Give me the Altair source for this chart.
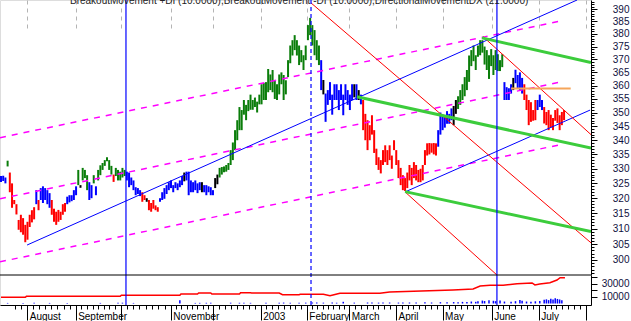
import altair as alt
import pandas as pd

# ---- x axis: bar index positions of month boundaries and their labels ----
month_pos = [11.9, 33.8, 54.2, 76.9, 96.2, 117.6, 138.5, 157.7, 178.9, 200.0, 222.2, 243.5, 265.0]
month_lab = ["August", "September", "", "November", "", "2003", "February", "March",
             "April", "May", "June", "July", ""]

# ---- daily bars: high / low / colour code (g green, r red, b blue, k black) ----
hi = [327.5, 327.6, 327.0, 332.8, 328.7, 325.0, 319.4, 318.0, 312.8, 314.5,
      313.4, 311.2, 312.2, 314.5, 316.0, 317.0, 322.7, 319.4, 323.4, 324.0,
      323.4, 322.7, 321.7, 319.4, 316.5, 315.5, 316.1, 315.5, 318.0, 318.4,
      320.5, 321.0, 321.0, 322.7, 324.0, 329.6, 324.4, 330.3, 329.6, 327.8,
      325.4, 324.4, 327.8, 324.0, 329.6, 331.2, 332.0, 333.0, 334.0, 333.0,
      331.0, 328.0, 330.3, 329.6, 329.0, 330.3, 329.6, 329.0, 328.7, 327.0,
      326.0, 323.7, 323.4, 322.7, 322.0, 321.0, 320.0, 319.4, 318.4, 319.4,
      317.6, 317.0, 320.0, 322.0, 323.4, 324.4, 325.4, 326.0, 324.4, 325.4,
      325.0, 326.0, 327.5, 328.7, 329.0, 329.0, 326.0, 325.4, 326.0, 325.0,
      325.4, 325.4, 324.4, 324.4, 324.0, 323.7, 322.7, 326.8, 328.0, 330.3,
      330.6, 330.8, 331.3, 332.0, 336.5, 339.2, 343.6, 347.2, 352.0, 350.9,
      354.6, 352.8, 354.6, 356.6, 354.6, 355.5, 354.0, 356.6, 360.5, 361.0,
      361.3, 366.3, 364.2, 365.9, 362.0, 360.5, 364.2, 365.0, 364.0, 362.0,
      369.7, 375.4, 377.5, 379.5, 377.5, 375.4, 373.6, 371.6, 375.4, 383.5,
      386.4, 383.5, 381.5, 377.5, 375.4, 369.7, 362.1, 357.0, 358.3, 361.3,
      356.6, 360.5, 360.5, 358.3, 360.5, 356.6, 360.5, 358.3, 356.6, 360.5,
      360.5, 360.5, 358.3, 356.6, 354.6, 349.5, 347.2, 345.4, 349.0, 343.6,
      337.0, 334.0, 333.0, 336.5, 338.2, 336.5, 338.2, 334.6, 340.0, 336.5,
      333.0, 330.3, 327.8, 326.8, 328.7, 331.3, 330.3, 332.3, 331.3, 329.6,
      330.0, 331.3, 336.5, 338.9, 339.0, 338.9, 339.0, 338.9, 343.6, 350.0,
      349.2, 348.4, 350.5, 349.5, 351.5, 352.4, 354.6, 356.0, 358.3, 360.5,
      363.2, 365.9, 371.5, 373.6, 375.4, 371.6, 375.4, 377.5, 377.5, 375.0,
      373.6, 371.6, 374.0, 371.6, 373.6, 372.0, 369.7, 372.0, 361.3, 359.4,
      359.0, 360.5, 362.9, 366.0, 364.0, 365.0, 362.9, 360.5, 356.6, 354.6,
      353.8, 350.9, 354.6, 354.6, 356.6, 354.6, 352.0, 350.2, 350.9, 349.2,
      348.0, 350.9, 351.5, 349.0, 350.2, 350.9]
lo = [325.5, 325.8, 325.0, 330.8, 322.0, 316.8, 318.0, 314.6, 309.6, 308.8,
      308.0, 305.6, 306.4, 310.5, 312.0, 313.0, 318.0, 316.0, 319.4, 318.4,
      319.4, 318.0, 316.8, 314.5, 312.2, 311.2, 312.2, 312.8, 314.5, 315.5,
      318.0, 318.6, 319.0, 319.4, 321.0, 324.4, 323.5, 326.0, 326.8, 322.7,
      319.4, 320.0, 325.0, 321.0, 326.0, 327.8, 329.6, 331.0, 332.6, 329.6,
      328.0, 325.5, 327.5, 326.0, 326.0, 327.0, 327.5, 326.0, 323.7, 324.4,
      322.7, 321.0, 321.4, 320.7, 318.8, 319.4, 318.8, 316.0, 315.5, 316.5,
      316.0, 315.5, 318.8, 319.4, 319.8, 321.4, 322.7, 323.4, 322.0, 323.4,
      322.7, 323.7, 324.4, 325.7, 326.0, 321.0, 322.0, 322.0, 322.7, 321.7,
      322.7, 322.0, 322.0, 321.0, 322.0, 321.0, 321.0, 323.4, 324.7, 327.0,
      328.0, 328.8, 329.0, 329.6, 331.3, 333.0, 336.5, 340.0, 343.6, 343.6,
      349.2, 347.2, 350.5, 351.0, 351.0, 352.0, 350.0, 353.0, 353.0, 354.6,
      354.6, 357.5, 358.3, 357.5, 355.0, 354.6, 356.7, 360.5, 354.6, 356.7,
      363.2, 368.5, 371.5, 373.6, 371.5, 367.8, 368.9, 365.9, 369.7, 377.5,
      379.5, 375.4, 371.6, 369.7, 367.8, 358.3, 356.7, 346.6, 352.8, 354.6,
      349.2, 354.6, 354.6, 350.9, 354.6, 349.0, 354.6, 352.8, 350.9, 354.6,
      355.6, 354.6, 354.6, 353.0, 343.6, 340.0, 336.5, 340.0, 342.0, 335.5,
      331.3, 329.6, 328.4, 331.3, 332.3, 331.3, 333.0, 330.0, 336.5, 331.3,
      326.8, 324.4, 322.7, 322.4, 323.4, 326.0, 324.4, 326.8, 326.0, 325.4,
      325.4, 326.0, 331.3, 334.6, 335.0, 335.6, 335.0, 334.6, 337.7, 342.0,
      343.6, 344.5, 345.9, 345.9, 347.2, 345.4, 349.5, 351.3, 352.8, 354.6,
      356.0, 358.3, 361.4, 367.4, 369.3, 365.9, 371.0, 371.6, 372.6, 368.0,
      365.9, 362.5, 367.4, 364.0, 365.9, 365.5, 365.5, 367.0, 354.6, 354.6,
      354.6, 357.0, 358.3, 360.9, 359.0, 358.3, 357.0, 354.6, 350.9, 345.4,
      346.6, 347.0, 347.2, 350.9, 352.0, 350.9, 346.0, 345.4, 343.6, 344.6,
      343.6, 347.0, 346.2, 343.6, 345.4, 347.2]
col = list("bbbgrrrrrr" "rrrrrrbrbb" "bbbrrrrrrr" "bbbbbgkggg" "bbgbgggggg"
           "grgggggbbb" "bbbbrrkrrr" "rrbbbbbbbb" "bbbkbbbbbb" "bkbbbbbkkg"
           "gggggggggg" "gggggggggg" "gggggggggg" "gggggggggg" "gggggbkbbb"
           "bbbbbbbbbb" "kbkbrrrrrr" "rrrrrrrrrr" "rrrrrrrrrr" "rrrrrrrrbb"
           "bbbbbkkggg" "gggggggggg" "ggggggggbb" "bbkbbbbrrr" "rrrbbbrrrr"
           "rrrrrr")

# ---- volume (blue bars, sparse) and red line in lower panel ----
vol_i = [3, 10, 15, 22, 30, 45, 53, 55, 60, 81, 88, 90, 93, 95, 104, 108, 110, 113, 120,
         126, 128, 131, 135, 138, 141, 143, 146, 150, 152, 155, 160, 166, 168, 171, 173,
         176, 180, 182, 185, 188, 192, 195, 199, 202, 205, 207, 209, 211, 213, 215, 216,
         218, 219, 221, 223, 224, 226, 228, 231, 233, 235, 236, 238, 240, 242, 244, 246,
         247, 248, 249, 250, 251, 252, 253, 254]
vol_v = [900, 800, 1000, 900, 800, 900, 1000, 1200, 900, 5000, 900, 1000, 1100, 1000, 1200,
         1100, 1300, 1000, 1200, 1000, 1400, 1100, 1200, 1300, 1500, 1400, 1300, 1500, 1200,
         2600, 1300, 1500, 1400, 1300, 1600, 1500, 1400, 1700, 1500, 1600, 1800, 1500, 2000,
         1800, 2200, 1900, 2500, 2300, 3000, 2600, 3500, 4500, 3800, 5000, 4200, 3600, 4800,
         3000, 2800, 3600, 5200, 4400, 3000, 2600, 3400, 4000, 5600, 6400, 5200, 7200, 6000,
         8000, 7000, 6200, 5000]
oi_i = [0, 11, 11.5, 54, 54.5, 81, 81.5, 89, 89.5, 95, 95.5, 108, 108.5, 113, 113.5, 126,
        127.5, 135, 135.5, 146, 149, 153.5, 171.6, 176, 204.7, 213.8, 217, 221.5, 227.4,
        233.7, 240.5, 241.8, 244, 248.6, 251.8, 253.2, 255.4]
oi_v = [9540, 9540, 11000, 11000, 12600, 12600, 14600, 14600, 16150, 16150, 14600, 14600,
        16600, 16600, 16150, 16150, 13500, 13500, 14150, 14150, 12000, 15700, 15700, 17700,
        20770, 22300, 26900, 28000, 28000, 30450, 31500, 28460, 30000, 32000, 36150, 39700,
        39700]

# ---- drawn study lines (bar index, price) ----
mag_i0, mag_p0 = [-0.45, -0.45, -0.45], [340.9, 319.8, 299.4]
mag_i1, mag_p1 = [253.2, 253.2, 253.2], [385.1, 361.3, 338.4]
blu_i0, blu_p0 = [11.8, 183.0], [304.7, 322.1]
blu_i1, blu_p1 = [260.9, 266.8], [393.7, 350.9]
grn_i0, grn_p0 = [217.8, 161.2, 183.0], [378.4, 355.8, 322.2]
grn_i1, grn_p1 = [267.2, 267.2, 267.2], [368.8, 337.2, 309.0]
red_i0, red_p0 = [140.4, 218.3, 183.0], [392.5, 378.9, 322.1]
red_i1, red_p1 = [267.2, 267.2, 224.6], [305.4, 342.0, 295.3]
org_i, org_p = [231.0, 258.0], [358.9, 358.9]
vline_i = [56.6, 140.4, 224.6]
vline_dash = [0, 1, 0]

title_txt = ("BreakoutMovement +DI (10.0000),BreakoutMovement -DI (10.0000),"
             "DirectionalMovementDX (21.0000)")

price_ticks = list(range(300, 391, 5))
price_minor = list(range(296, 394))
vol_ticks = [10000, 20000, 30000, 40000]

# ------------------------------------------------------------------
W, HP, H = 591, 275, 305
GRID = "#b4b4b4"
FONT = "Liberation Sans"
xscale = alt.Scale(domain=[-0.45, 267.2], nice=False, zero=False)
pscale = alt.Scale(type="log", domain=[295.3, 393.7], nice=False, range=[HP, 0])
vscale = alt.Scale(domain=[-2300, 43800], nice=False, zero=False, range=[H, HP])

def seg_df(i0, p0, i1, p1):
    rows = []
    for k in range(len(i0)):
        rows.append({"k": k, "i": i0[k], "p": p0[k]})
        rows.append({"k": k, "i": i1[k], "p": p1[k]})
    return pd.DataFrame(rows)

lab_expr = " : ".join(f"datum.value == {p} ? '{l}'" for p, l in zip(month_pos, month_lab)) + " : ''"
minor_x = []
for a, b in zip(month_pos[:-1], month_pos[1:]):
    for s in range(1, 8):
        minor_x.append(round(a + (b - a) * s / 8, 3))
first_gap = month_pos[1] - month_pos[0]
for s in range(1, 3):
    minor_x.append(round(month_pos[0] - first_gap * s / 8, 3))

month_xaxis = alt.Axis(orient="bottom", values=month_pos, grid=True, gridColor=GRID,
                       gridDash=[4, 4], gridWidth=1, tickSize=15, tickColor="black",
                       domainColor="black", labelExpr=lab_expr, labelAlign="left",
                       labelBaseline="middle", labelPadding=-4, labelOffset=2,
                       labelFontSize=10, labelFont=FONT, labelColor="black",
                       labelOverlap=False, labelFlush=False, title=None)
minor_xaxis = alt.Axis(orient="bottom", values=minor_x, grid=False, tickSize=4,
                       tickColor="black", domain=False, labels=False, title=None)
major_y = alt.Axis(orient="right", values=price_ticks, title=None, grid=False,
                   tickSize=6, tickColor="black", domainColor="black",
                   labelAlign="right", labelBaseline="middle", labelPadding=32,
                   labelFontSize=10, labelColor="#101040", labelFont=FONT,
                   labelOverlap=False, labelFlush=False)
minor_y = alt.Axis(orient="right", values=price_minor, title=None, grid=False,
                   tickSize=3, tickColor="black", domain=False, labels=False)
vol_yaxis = alt.Axis(orient="right", values=vol_ticks, title=None, grid=False, tickSize=6,
                     tickColor="black", domainColor="black",
                     labelExpr="datum.value == 10000 || datum.value == 30000 ? datum.value : ''",
                     labelAlign="right", labelBaseline="middle", labelPadding=32,
                     labelFontSize=10, labelColor="#101040", labelFont=FONT,
                     labelOverlap=False, labelFlush=False, format="d")

def X(axis=None):
    return alt.X("i:Q", scale=xscale, axis=axis)

# price bars
bars = pd.DataFrame({"i": list(range(len(hi))), "lo": lo, "hi": hi, "c": col})
bar_layer = alt.Chart(bars).mark_rule(strokeWidth=2).encode(
    x=X(),
    y=alt.Y("lo:Q", scale=pscale, axis=major_y),
    y2="hi:Q",
    color=alt.Color("c:N", scale=alt.Scale(domain=["g", "r", "b", "k"],
                                           range=["#0a7d0a", "#ff0000", "#0000ff", "#000000"]),
                    legend=None),
)

def line_layer(df, color, width, dash=None, axis=None):
    kw = dict(color=color, strokeWidth=width, clip=True)
    if dash:
        kw["strokeDash"] = dash
    return alt.Chart(df).mark_line(**kw).encode(
        x=X(), y=alt.Y("p:Q", scale=pscale, axis=axis), detail="k:N")

mag_layer = line_layer(seg_df(mag_i0, mag_p0, mag_i1, mag_p1), "#ff00ff", 1.5, [6, 6], minor_y)
blu_layer = line_layer(seg_df(blu_i0, blu_p0, blu_i1, blu_p1), "#0000ff", 1)
red_layer = line_layer(seg_df(red_i0, red_p0, red_i1, red_p1), "#ff0000", 1)
grn_layer = line_layer(seg_df(grn_i0, grn_p0, grn_i1, grn_p1), "#3ccc3c", 3)
org_layer = line_layer(pd.DataFrame({"k": [0, 0], "i": org_i, "p": org_p}), "#f5a55a", 2.2)

vl = pd.DataFrame({"i": vline_i, "d": vline_dash})
vsolid = alt.Chart(vl).transform_filter("datum.d == 0").mark_rule(
    color="#0000ff", strokeWidth=1.2).encode(x=X())
vdashed = alt.Chart(vl).transform_filter("datum.d == 1").mark_rule(
    color="#0000ff", strokeWidth=1.2, strokeDash=[4, 3]).encode(x=X())

sep = alt.Chart(pd.DataFrame({"a": [0]})).mark_rule(color="black", strokeWidth=1).encode(
    x=alt.value(0), x2=alt.value(W), y=alt.value(HP))

title_layer = alt.Chart(pd.DataFrame({"t": [title_txt]})).mark_text(
    align="left", baseline="middle", fontSize=10, font=FONT,
    color="#222222").encode(x=alt.value(70), y=alt.value(1), text="t:N")

# lower panel
vdf = pd.DataFrame({"i": vol_i, "v": vol_v, "z": [0] * len(vol_i)})
vol_layer = alt.Chart(vdf).mark_rule(color="#0000ff", strokeWidth=1.5).encode(
    x=X(month_xaxis),
    y=alt.Y("z:Q", scale=vscale, axis=vol_yaxis), y2="v:Q")
oi_layer = alt.Chart(pd.DataFrame({"i": oi_i, "v": oi_v})).mark_line(
    color="#ff0000", strokeWidth=1.5).encode(
    x=X(minor_xaxis),
    y=alt.Y("v:Q", scale=vscale, axis=None))

chart = alt.layer(
    vol_layer, oi_layer, bar_layer, mag_layer, blu_layer, red_layer, grn_layer, org_layer,
    vsolid, vdashed, sep, title_layer
).resolve_scale(y="independent").resolve_axis(x="independent", y="independent").properties(
    width=W, height=H,
    autosize=alt.AutoSizeParams(type="none"),
    padding={"left": 0, "top": 0, "right": 40, "bottom": 16},
).configure_view(stroke=None).configure(font=FONT, background="white")

chart.save("out.html", embed_options={"renderer": "svg", "actions": False})
